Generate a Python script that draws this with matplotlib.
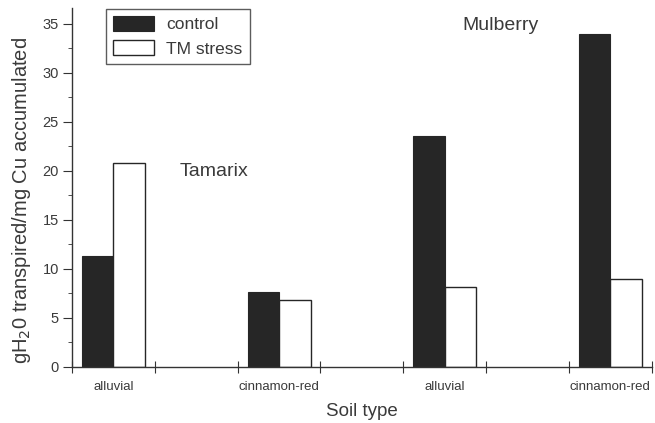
import matplotlib
matplotlib.use('Agg')
import matplotlib.pyplot as plt
import numpy as np
from matplotlib.ticker import MultipleLocator

plt.rcParams['font.family'] = ['Liberation Sans', 'DejaVu Sans']

# bins along the x axis: labelled soils sit at 0, 2, 4, 6
positions = [0, 2, 4, 6]
soil_labels = ['alluvial', 'cinnamon-red', 'alluvial', 'cinnamon-red']
control = [11.3, 7.7, 23.6, 34.0]
tm_stress = [20.8, 6.8, 8.2, 9.0]

txt = '#3a3a3a'

fig = plt.figure(figsize=(6.55, 4.23), dpi=100)
ax = fig.add_axes([0.110, 0.1324, 0.885, 0.848])

w = 0.38
x = np.array(positions)
ax.bar(x - w / 2, control, w, color='#262626', edgecolor='#262626', linewidth=0.8, label='control')
ax.bar(x + w / 2, tm_stress, w, color='white', edgecolor='#262626', linewidth=1.0, label='TM stress')

ax.set_xlim(-0.5, 6.5)
ax.set_ylim(0, 36.6)

ax.spines['top'].set_visible(False)
ax.spines['right'].set_visible(False)
for s in ['left', 'bottom']:
    ax.spines[s].set_color('#333333')
    ax.spines[s].set_linewidth(1.0)

ax.yaxis.set_major_locator(MultipleLocator(5))
ax.yaxis.set_minor_locator(MultipleLocator(2.5))
ax.tick_params(axis='y', which='major', length=6.5, color='#333333', labelcolor=txt, labelsize=10.5, pad=3)
ax.tick_params(axis='y', which='minor', length=3, color='#333333')

# tick marks between bins, labels at bin centres
ax.set_xticks(np.arange(-0.5, 7, 1.0))
ax.set_xticklabels([])
ax.set_xticks(positions, minor=True)
ax.set_xticklabels(soil_labels, minor=True)
ax.tick_params(axis='x', which='major', direction='inout', length=8, color='#333333')
ax.tick_params(axis='x', which='minor', length=0, labelcolor=txt, labelsize=9.5, pad=10)

ax.set_xlabel('Soil type', fontsize=13.5, color=txt, labelpad=7)
ax.set_ylabel('gH$_2$0 transpired/mg Cu accumulated', fontsize=14.5, color=txt, labelpad=7)
ax.yaxis.label.set_y(0.465)

ax.text(0.80, 19.9, 'Tamarix', fontsize=14, color=txt, va='center')
ax.text(4.21, 34.8, 'Mulberry', fontsize=14, color=txt, va='center')

leg = ax.legend(loc='upper left', bbox_to_anchor=(0.058, 0.998), fontsize=12.5, frameon=True,
                fancybox=False, edgecolor='#333333', borderpad=0.4, handlelength=2.4,
                handleheight=0.95, labelspacing=0.45, handletextpad=0.7, borderaxespad=0.0)
leg.get_frame().set_linewidth(1.0)
for t in leg.get_texts():
    t.set_color(txt)

fig.savefig('out.png', dpi=100)
